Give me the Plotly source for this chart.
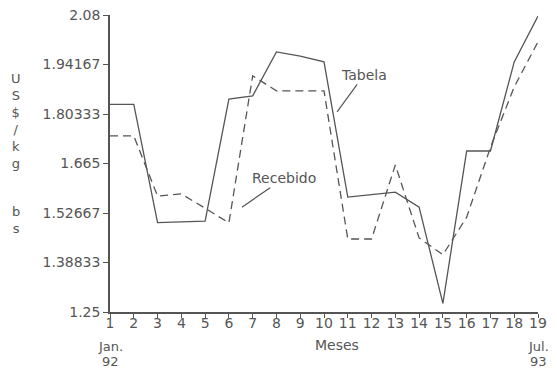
import plotly.graph_objects as go

months = list(range(1, 20))
tabela = [1.83, 1.83, 1.50, 1.502, 1.504, 1.845, 1.854, 1.977, 1.965, 1.949,
          1.571, 1.578, 1.585, 1.543, 1.274, 1.70, 1.70, 1.949, 2.077]
recebido = [1.742, 1.742, 1.574, 1.58, 1.54, 1.499, 1.91, 1.868, 1.868, 1.868,
            1.454, 1.454, 1.661, 1.457, 1.41, 1.515, 1.71, 1.879, 2.005]
y_tickvals = [1.25, 1.38833, 1.52667, 1.665, 1.80333, 1.94167, 2.08]
y_ticktext = ["1.25", "1.38833", "1.52667", "1.665", "1.80333", "1.94167", "2.08"]
x_ticktext = [str(m) for m in months]

ink = "#555555"
font = "DejaVu Sans"

# page has an 8px body margin; size the figure so the plot lands where the reference has it
OFF = 8
W, H = 557 - OFF, 374 - OFF
L, R, T, B = 110 - OFF, 19, 15 - OFF, 62

fig = go.Figure()
fig.add_trace(go.Scatter(x=months, y=tabela, mode="lines", name="Tabela",
                         line=dict(color=ink, width=1.3)))
fig.add_trace(go.Scatter(x=months, y=recebido, mode="lines", name="Recebido",
                         line=dict(color=ink, width=1.3, dash="8px,5px")))

fig.update_layout(
    width=W, height=H,
    margin=dict(l=L, r=R, t=T, b=B, autoexpand=False),
    paper_bgcolor="white", plot_bgcolor="white",
    showlegend=False,
    font=dict(family=font, color=ink, size=14),
)
fig.update_xaxes(range=[1, 19], tickmode="array", tickvals=months, ticktext=x_ticktext,
                 showgrid=False, zeroline=False, showline=True, linecolor=ink, linewidth=1.5,
                 ticks="outside", ticklen=4, tickcolor=ink, tickwidth=1.2,
                 ticklabelstandoff=-7, ticklabeloverflow="allow",
                 tickfont=dict(size=14, color=ink))
fig.update_yaxes(range=[1.25, 2.08], tickmode="array", tickvals=y_tickvals, ticktext=y_ticktext,
                 showgrid=False, zeroline=False, showline=True, linecolor=ink, linewidth=1.5,
                 ticks="outside", ticklen=5, tickcolor=ink, tickwidth=1.2,
                 ticklabeloverflow="allow",
                 tickfont=dict(size=14, color=ink))

ann_font = dict(family=font, color=ink, size=14)
small_font = dict(family=font, color=ink, size=13)
# series labels with leader lines
fig.add_annotation(x=10.55, y=1.809, xref="x", yref="y", text="Tabela", showarrow=True,
                   ax=27, ay=-37, arrowhead=0, arrowwidth=1.2, arrowcolor=ink, font=ann_font)
fig.add_annotation(x=6.55, y=1.543, xref="x", yref="y", text="Recebido", showarrow=True,
                   ax=42, ay=-29, arrowhead=0, arrowwidth=1.2, arrowcolor=ink, font=ann_font)

# y-axis title (stacked letters)
fig.add_annotation(x=16, y=121, xref="paper", yref="paper", text="U<br>S<br>$<br>/<br>k<br>g",
                   showarrow=False, font=small_font)
fig.add_annotation(x=16, y=220, xref="paper", yref="paper", text="b<br>s",
                   showarrow=False, font=small_font)

# x-axis labels
fig.add_annotation(x=1, y=346, xref="x", yref="paper", text="Jan.", showarrow=False, font=small_font)
fig.add_annotation(x=1, y=362, xref="x", yref="paper", text="92", showarrow=False, font=small_font)
fig.add_annotation(x=19, y=346, xref="x", yref="paper", text="Jul.", showarrow=False, font=small_font)
fig.add_annotation(x=19, y=362, xref="x", yref="paper", text="93", showarrow=False, font=small_font)
fig.add_annotation(x=337, y=345, xref="paper", yref="paper", text="Meses", showarrow=False, font=ann_font)

# convert page-pixel positions for paper-referenced annotations
pw, ph = W - L - R, H - T - B
for a in fig.layout.annotations:
    if a.xref == "paper":
        a.x = (a.x - OFF - L) / pw
    if a.yref == "paper":
        a.y = (H - B - (a.y - OFF)) / ph
    if not a.showarrow:
        a.xanchor = "center"
        a.yanchor = "middle"

fig.write_html("out.html")
